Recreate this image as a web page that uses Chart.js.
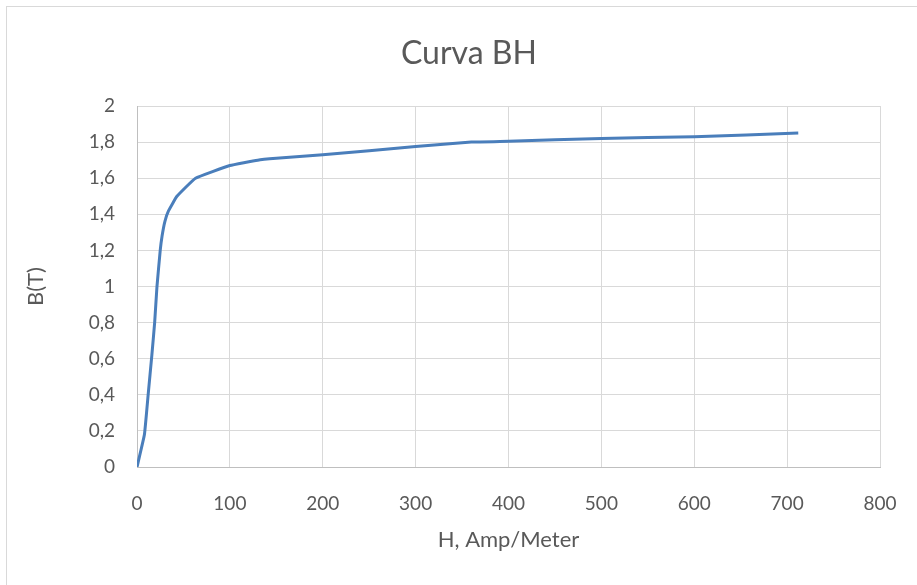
<!DOCTYPE html>
<html>
<head>
<meta charset="utf-8">
<script src="https://cdn.jsdelivr.net/npm/chart.js@4.4.0/dist/chart.umd.min.js"></script>
<style>
    html, body { margin: 0; padding: 0; background: #fff; overflow: hidden; }
    #frame {
        position: absolute; left: 6px; top: 6px;
        width: 930px; height: 600px;
        border: 1px solid #d9d9d9;
    }
    #wrap { position: absolute; left: 0; top: 0; width: 938px; height: 585px; }
    #title {
        position: absolute; left: 0; top: 33px; width: 938px;
        text-align: center; line-height: 38px;
        font-family: Lato, "Open Sans", sans-serif; font-size: 32px; color: #595959;
    }
</style>
</head>
<body>
<div id="frame"></div>
<div id="wrap"><canvas id="bhChart" width="938" height="585"></canvas></div>
<div id="title">Curva BH</div>
<script>
// Data
const hValues = [0, 8, 12, 16, 19, 21.5, 25, 27, 30, 34, 43, 63, 100, 130, 150, 200, 300, 360, 400, 500, 600, 712];
const bValues = [0, 0.18, 0.4, 0.62, 0.8, 1.0, 1.2, 1.28, 1.36, 1.42, 1.5, 1.6, 1.67, 1.70, 1.71, 1.73, 1.775, 1.8, 1.805, 1.82, 1.83, 1.85];
const xTicks = [0, 100, 200, 300, 400, 500, 600, 700, 800];
const yTicks = [0, 0.2, 0.4, 0.6, 0.8, 1, 1.2, 1.4, 1.6, 1.8, 2];

const textColor = '#595959';
const gridColor = '#d9d9d9';
const fontFamily = 'Lato, "Open Sans", sans-serif';

function createBHChart() {
    const ctx = document.getElementById('bhChart').getContext('2d');
    const points = hValues.map((h, i) => ({ x: h, y: bValues[i] }));

    new Chart(ctx, {
        type: 'line',
        data: {
            datasets: [{
                label: 'B',
                data: points,
                borderColor: '#4a7ebb',
                borderWidth: 3,
                pointRadius: 0,
                fill: false,
                tension: 0.1
            }]
        },
        options: {
            responsive: false,
            animation: false,
            // canvas runs past the window edge; title is an html block above
            layout: { padding: { left: 20, right: 58, top: 106, bottom: 0 } },
            plugins: {
                legend: { display: false },
                tooltip: { enabled: false },
                title: { display: false }
            },
            scales: {
                x: {
                    type: 'linear',
                    min: xTicks[0],
                    max: xTicks[xTicks.length - 1],
                    afterBuildTicks: scale => { scale.ticks = xTicks.map(v => ({ value: v })); },
                    afterFit: scale => { scale.height = 118; },
                    grid: { color: gridColor, drawTicks: false },
                    border: { color: '#bfbfbf' },
                    ticks: {
                        color: textColor,
                        font: { family: fontFamily, size: 19 },
                        padding: 25,
                        maxRotation: 0
                    },
                    title: {
                        display: true,
                        text: 'H, Amp/Meter',
                        color: textColor,
                        font: { family: fontFamily, size: 22 },
                        padding: { top: 0, bottom: 32 }
                    }
                },
                y: {
                    type: 'linear',
                    min: yTicks[0],
                    max: yTicks[yTicks.length - 1],
                    afterBuildTicks: scale => { scale.ticks = yTicks.map(v => ({ value: v })); },
                    afterFit: scale => { scale.width = 117; },
                    grid: { color: gridColor, drawTicks: false },
                    border: { color: '#bfbfbf' },
                    ticks: {
                        color: textColor,
                        font: { family: fontFamily, size: 19 },
                        padding: 22,
                        callback: value => String(Math.round(value * 10) / 10).replace('.', ',')
                    },
                    title: {
                        display: true,
                        text: 'B(T)',
                        color: textColor,
                        font: { family: fontFamily, size: 22 },
                        padding: { top: 3, bottom: 0 }
                    }
                }
            }
        }
    });
}

window.onload = () => {
    createBHChart();
};
</script>
</body>
</html>
